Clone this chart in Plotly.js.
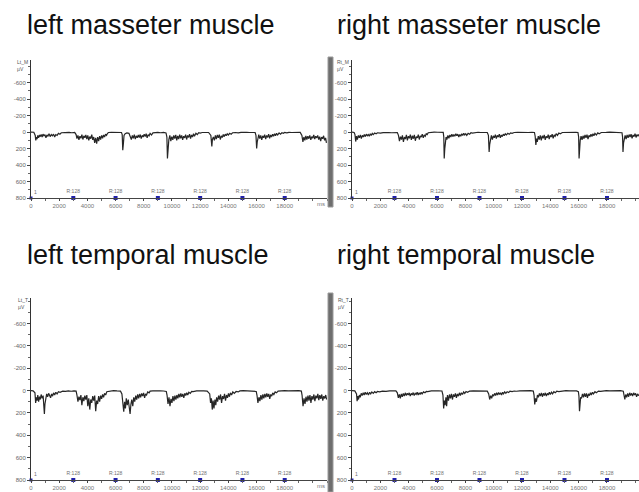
<!DOCTYPE html>
<html><head><meta charset="utf-8">
<script src="https://cdn.plot.ly/plotly-3.0.1.min.js"></script>
<style>html,body{margin:0;padding:0;background:#fff}#chart{width:639px;height:492px}</style>
</head><body><div id="chart"></div>
<script>
// ---- data (time in ms, amplitude in µV; positive = downward in display) ----
const panelTitles = ["left masseter muscle","right masseter muscle","left temporal muscle","right temporal muscle"];
const channelNames = ["Lt_M","Rt_M","Lt_T","Rt_T"];
const yTicks = [-600,-400,-200,0,200,400,600,800];
const xTicks = [0,2000,4000,6000,8000,10000,12000,14000,16000,18000];
const xTickLabels = ["0","2000","4000","6000","8000","10000","12000","14000","16000","18000"];
const markerTimes = [3000,6000,9000,12000,15000,18000];
const markerLabels = ["R:128","R:128","R:128","R:128","R:128","R:128"];

const ltM = [[0,0],[200,2],[300,40],[340,100],[380,60],[430,85],[480,40],[540,70],[600,35],[660,55],[720,30],[790,60],[850,25],[920,45],[990,30],[1060,70],[1130,35],[1200,50],[1280,20],[1360,55],[1440,30],[1520,45],[1600,25],[1680,60],[1760,30],[1850,40],[1950,15],[2050,25],[2150,8],[2300,5],[2500,10],[2700,4],[2900,8],[3100,3],
[3200,30],[3260,80],[3330,40],[3400,95],[3470,50],[3540,75],[3610,30],[3680,90],[3750,45],[3820,70],[3890,35],[3960,85],[4030,40],[4100,100],[4170,55],[4240,80],[4310,30],[4380,95],[4450,60],[4520,130],[4590,70],[4660,140],[4730,60],[4800,110],[4870,50],[4940,90],[5010,40],[5080,75],[5150,35],[5220,60],[5290,25],[5360,40],[5430,15],[5500,5],
[5700,2],[5950,0],[6200,3],[6420,5],[6470,30],[6510,220],[6550,150],[6600,40],[6680,20],[6800,10],[6950,15],
[7050,50],[7120,90],[7190,40],[7260,75],[7330,30],[7400,85],[7470,45],[7540,70],[7610,35],[7680,65],[7750,30],[7820,80],[7890,40],[7960,60],[8030,25],[8100,55],[8170,20],[8240,70],[8310,30],[8380,45],[8450,15],[8550,35],[8650,10],
[8800,5],[9000,3],[9200,8],[9400,4],[9580,10],[9640,60],[9680,320],[9710,180],[9740,260],[9780,90],
[9850,40],[9920,110],[9990,55],[10060,95],[10130,40],[10200,80],[10270,35],[10340,100],[10410,45],[10480,85],[10550,30],[10620,75],[10690,40],[10760,95],[10830,50],[10900,70],[10970,30],[11040,90],[11110,40],[11180,65],[11250,25],[11320,80],[11390,35],[11460,60],[11530,20],[11600,50],[11700,15],[11800,30],[11900,8],[12000,12],[12150,5],[12300,8],[12450,3],[12600,5],
[12760,40],[12830,175],[12870,90],[12940,60],[13010,100],[13080,40],[13150,85],[13220,35],[13290,70],[13360,30],[13430,90],[13500,45],[13570,65],[13640,30],[13710,55],[13780,25],[13850,45],[13920,20],[14000,35],[14100,15],[14200,25],[14300,8],
[14500,5],[14700,10],[14900,4],[15100,8],[15300,3],[15500,5],[15700,2],[15900,5],[15960,40],[16010,200],[16050,120],[16090,60],
[16160,30],[16230,80],[16300,40],[16370,95],[16440,45],[16510,70],[16580,30],[16650,85],[16720,40],[16790,65],[16860,25],[16930,75],[17000,35],[17070,60],[17140,25],[17210,50],[17280,20],[17350,45],[17420,15],[17500,35],[17600,10],[17700,25],[17800,8],[17900,15],[18000,5],[18150,10],[18300,3],[18500,5],[18700,2],[18900,0],[19100,3],
[19220,40],[19290,120],[19360,60],[19430,100],[19500,45],[19570,90],[19640,50],[19710,80],[19780,40],[19850,95],[19920,55],[19990,75],[20060,35],[20130,85],[20200,50],[20270,70],[20340,40],[20410,90],[20480,55],[20550,110],[20620,60],[20690,80],[20760,45],[20830,100],[20900,70],[20960,130]];

const rtM = [[0,0],[150,5],[210,30],[260,115],[320,50],[380,90],[450,40],[520,70],[590,35],[660,80],[730,40],[800,60],[870,30],[940,55],[1010,25],[1080,45],[1150,30],[1220,50],[1290,20],[1360,40],[1430,15],[1500,30],[1600,12],[1700,20],[1800,8],[2000,12],[2200,6],[2400,10],[2600,5],[2800,8],[3000,3],[3200,5],
[3280,40],[3350,110],[3420,55],[3490,90],[3560,40],[3630,120],[3700,60],[3770,85],[3840,35],[3910,100],[3980,50],[4050,75],[4120,30],[4190,95],[4260,45],[4330,80],[4400,35],[4470,105],[4540,55],[4610,70],[4680,30],[4750,90],[4820,45],[4890,60],[4960,25],[5030,70],[5100,35],[5170,50],[5240,20],[5310,30],[5380,8],
[5550,3],[5800,0],[6050,2],[6300,0],[6440,3],[6480,60],[6510,320],[6550,200],[6590,120],[6640,60],
[6700,90],[6770,40],[6840,75],[6910,35],[6980,60],[7050,25],[7120,55],[7190,30],[7260,50],[7330,20],[7400,45],[7470,25],[7540,60],[7610,30],[7680,50],[7750,20],[7820,40],[7890,15],[7960,35],[8030,20],[8100,40],[8200,15],[8300,25],[8400,8],[8500,12],
[8700,5],[8900,2],[9100,5],[9300,2],[9550,5],[9630,40],[9680,240],[9720,150],[9770,80],
[9840,40],[9910,90],[9980,45],[10050,70],[10120,30],[10190,80],[10260,40],[10330,60],[10400,25],[10470,70],[10540,35],[10610,55],[10680,25],[10750,45],[10820,20],[10900,35],[11000,15],[11100,25],[11200,10],[11300,15],[11450,5],
[11700,3],[11950,6],[12200,3],[12450,5],[12700,2],[12880,5],[12930,50],[12980,155],[13030,80],[13080,120],
[13150,50],[13220,90],[13290,40],[13360,100],[13430,45],[13500,75],[13570,35],[13640,95],[13710,50],[13780,70],[13850,30],[13920,85],[13990,40],[14060,60],[14130,25],[14200,75],[14270,35],[14340,50],[14410,20],[14500,40],[14600,12],[14700,20],[14850,5],
[15050,3],[15300,0],[15550,3],[15800,2],[15950,5],[16000,60],[16030,320],[16070,180],[16110,100],
[16170,50],[16240,95],[16310,45],[16380,80],[16450,35],[16520,70],[16590,30],[16660,85],[16730,40],[16800,60],[16870,25],[16940,55],[17010,20],[17080,45],[17150,15],[17250,35],[17350,10],[17450,20],[17600,5],[17750,8],
[17950,3],[18200,0],[18450,2],[18700,0],[18950,3],[19060,8],[19100,60],[19130,240],[19170,130],[19210,80],
[19280,40],[19350,85],[19420,35],[19490,70],[19560,30],[19630,60],[19700,25],[19770,75],[19840,35],[19910,55],[19980,20],[20050,65],[20120,30],[20190,50],[20260,25]];

const ltT = [[0,0],[150,2],[280,20],[330,110],[380,60],[430,90],[480,40],[540,100],[600,55],[660,80],[720,35],[790,70],[860,45],[920,140],[950,210],[990,120],[1050,60],[1110,30],[1180,55],[1250,25],[1320,45],[1390,65],[1460,30],[1530,50],[1600,20],[1680,40],[1760,15],[1850,30],[1950,10],[2060,15],[2250,5],[2450,8],[2650,3],[2850,6],[3050,2],[3200,5],
[3260,40],[3330,100],[3400,55],[3470,85],[3540,40],[3610,130],[3680,60],[3750,95],[3820,45],[3890,80],[3960,40],[4030,140],[4100,70],[4170,170],[4240,80],[4310,110],[4380,50],[4450,90],[4520,45],[4590,185],[4660,90],[4730,120],[4800,50],[4870,100],[4940,45],[5010,75],[5080,35],[5150,60],[5220,25],[5300,40],[5380,10],
[5600,3],[5850,0],[6100,3],[6350,5],
[6450,30],[6520,120],[6580,190],[6640,100],[6700,160],[6760,70],[6830,130],[6900,80],[6970,150],[7030,210],[7090,120],[7150,80],[7220,140],
[7290,60],[7360,100],[7430,45],[7500,80],[7570,35],[7640,70],[7710,30],[7780,60],[7850,25],[7920,50],[7990,20],[8060,65],[8130,30],[8200,40],[8280,12],[8380,20],[8450,5],
[8650,2],[8900,5],[9150,2],[9400,4],[9600,8],
[9650,40],[9720,120],[9790,60],[9860,140],[9930,75],[10000,110],[10070,50],[10140,95],[10210,45],[10280,80],[10350,40],
[10420,70],[10490,30],[10560,60],[10630,25],[10700,55],[10770,30],[10840,65],[10910,25],[10980,45],[11050,20],[11120,40],[11200,15],[11300,25],[11400,8],[11500,10],
[11750,3],[12000,0],[12250,3],[12500,5],
[12680,30],[12740,110],[12800,70],[12860,170],[12920,90],[12980,160],[13050,80],[13110,130],[13170,60],
[13240,100],[13310,45],[13380,80],[13450,35],[13520,110],[13590,50],[13660,75],[13730,30],[13800,90],[13870,40],[13940,65],[14010,25],[14080,55],[14150,20],[14230,40],[14320,12],[14420,25],[14550,8],[14700,12],[14820,3],
[15050,0],[15300,3],[15550,0],[15800,3],[15980,8],
[16030,40],[16100,110],[16170,60],[16240,95],[16310,40],[16380,80],[16450,35],
[16520,70],[16590,30],[16660,60],[16730,25],[16800,55],[16870,30],[16940,75],[17010,35],[17080,50],[17150,20],[17230,35],[17320,12],[17420,20],[17530,5],
[17750,2],[18000,0],[18250,3],[18500,0],[18750,3],[19000,0],[19180,5],
[19230,40],[19300,140],[19370,70],[19440,120],[19510,55],[19580,100],[19650,45],
[19720,90],[19790,40],[19860,110],[19930,50],[20000,80],[20070,35],[20140,95],[20210,45],[20280,70],[20350,30],[20420,85],[20490,40],[20560,75],[20630,35],[20700,90],[20770,50],[20840,70],[20910,40],[20970,80]];

const rtT = [[0,0],[200,3],[320,30],[360,95],[410,50],[460,80],[520,40],[580,60],[650,25],[720,45],[790,20],[860,40],[930,15],[1000,35],[1080,20],[1160,40],[1240,15],[1320,30],[1400,12],[1500,25],[1600,10],[1700,20],[1800,8],[1950,12],[2150,5],[2400,8],[2650,3],[2900,5],[3100,2],
[3200,20],[3270,65],[3340,35],[3410,70],[3480,30],[3550,55],[3620,25],[3690,50],
[3760,20],[3830,45],[3900,25],[3970,40],[4040,20],[4110,50],[4180,25],[4250,40],[4320,18],[4390,45],[4460,25],[4530,35],[4600,15],[4670,40],[4740,20],[4810,35],[4880,15],[4950,30],[5050,12],[5150,20],[5250,8],[5350,10],
[5600,3],[5850,0],[6100,2],[6350,4],
[6420,40],[6470,160],[6520,90],[6570,130],[6630,60],[6680,140],
[6740,40],[6810,90],[6880,35],[6950,70],[7020,30],[7090,80],[7160,35],[7230,55],[7300,25],[7370,65],[7440,30],[7510,50],[7580,20],[7650,45],[7720,20],[7800,35],[7880,12],[7960,25],[8050,8],[8150,15],[8300,5],
[8550,2],[8800,4],[9050,1],[9300,3],[9550,5],
[9650,30],[9720,80],[9790,45],[9860,70],[9930,35],
[10000,50],[10070,25],[10140,45],[10210,20],[10280,40],[10350,18],[10420,35],[10490,20],[10560,40],[10630,15],[10700,30],[10780,12],[10860,25],[10950,10],[11050,18],[11150,6],[11300,10],[11450,4],[11600,6],
[11850,2],[12100,0],[12350,3],[12600,1],[12800,5],
[12850,40],[12900,125],[12960,70],[13020,100],
[13090,40],[13160,60],[13230,25],[13300,50],[13370,20],[13440,55],[13510,25],[13580,45],[13650,20],[13720,50],[13790,25],[13860,40],[13930,15],[14000,35],[14080,15],[14160,30],[14250,10],[14350,20],[14450,6],[14600,10],
[14850,3],[15100,0],[15350,3],[15600,0],[15850,3],[15980,10],
[16020,50],[16060,185],[16100,100],[16140,60],
[16200,70],[16270,30],[16340,60],[16410,25],[16480,55],[16550,25],[16620,65],[16690,30],[16760,45],[16830,20],[16900,40],[16970,15],[17050,30],[17150,10],[17250,20],[17400,5],[17550,8],[17700,3],
[17950,0],[18200,2],[18450,0],[18700,3],[18950,1],[19150,6],
[19200,40],[19260,80],[19320,35],[19390,60],
[19460,25],[19530,55],[19600,20],[19670,45],[19740,25],[19810,50],[19880,20],[19950,40],[20020,25],[20090,55],[20160,30],[20230,45],[20260,35]];

// ---- layout helpers ----
const W = 639, H = 492;
const px = x => x / W;
const py = y => 1 - y / H;

const series = [ltM, rtM, ltT, rtT];
const panels = [
  {x0:31,  x1:327, y0:60,  y1:198, yr:[800,-875], xr:[0,21000]},
  {x0:352, x1:639, y0:60,  y1:198, yr:[800,-875], xr:[0,20260]},
  {x0:31,  x1:327, y0:298, y1:480, yr:[800,-828], xr:[0,21000]},
  {x0:352, x1:639, y0:298, y1:480, yr:[800,-828], xr:[0,20260]}
];

const traces = [];
const layout = {
  width: W, height: H,
  margin: {l:0, r:0, t:0, b:0},
  paper_bgcolor: '#ffffff', plot_bgcolor: '#ffffff',
  showlegend: false,
  font: {family: 'Liberation Sans, Arial, sans-serif', color: '#666'},
  annotations: [], shapes: []
};

panels.forEach((p, i) => {
  const n = i === 0 ? '' : String(i + 1);
  const xa = 'x' + n, ya = 'y' + n;
  traces.push({
    type: 'scatter', mode: 'lines', xaxis: xa, yaxis: ya,
    x: series[i].map(d => d[0]), y: series[i].map(d => d[1]),
    line: {color: '#262626', width: 1.2}, hoverinfo: 'skip'
  });
  traces.push({
    type: 'scatter', mode: 'markers+text', xaxis: xa, yaxis: ya,
    x: markerTimes, y: markerTimes.map(() => 800),
    text: markerLabels, textposition: 'top center',
    textfont: {size: 5, color: '#707070'},
    marker: {symbol: 'square', size: 4, color: '#1f1fa8'},
    cliponaxis: false, hoverinfo: 'skip'
  });
  traces.push({
    type: 'scatter', mode: 'markers+text', xaxis: xa, yaxis: ya,
    x: [0], y: [800], text: ['1'], textposition: 'top right',
    textfont: {size: 5, color: '#707070'},
    marker: {symbol: 'square', size: 3, color: '#1f1fa8'},
    cliponaxis: false, hoverinfo: 'skip'
  });
  layout['xaxis' + n] = {
    domain: [px(p.x0), px(p.x1)], range: p.xr, anchor: ya,
    showline: true, linecolor: '#444', linewidth: 1,
    showgrid: false, zeroline: false,
    tickmode: 'array', tickvals: xTicks, ticktext: xTickLabels,
    ticks: 'outside', ticklen: 2, tickcolor: '#444',
    ticklabelstandoff: 0,
    tickfont: {size: 6, color: '#777'},
    minor: {dtick: 1000, tick0: 0, ticks: 'outside', ticklen: 2, tickcolor: '#666'},
    fixedrange: true
  };
  layout['yaxis' + n] = {
    domain: [py(p.y1), py(p.y0)], range: p.yr, anchor: xa,
    showline: true, linecolor: '#333', linewidth: 1,
    showgrid: false, zeroline: false,
    tickmode: 'array', tickvals: yTicks, ticktext: yTicks.map(String),
    ticks: 'outside', ticklen: 3, tickcolor: '#444',
    tickfont: {size: 6, color: '#666'},
    minor: {dtick: 100, tick0: 0, ticks: 'outside', ticklen: 2, tickcolor: '#666'},
    fixedrange: true
  };
  layout.annotations.push({
    xref: 'paper', yref: 'paper', x: px(p.x0 - 1), y: py(p.y0 - 3),
    xanchor: 'right', yanchor: 'top', showarrow: false, align: 'left',
    text: channelNames[i] + '<br>µV', font: {size: 5, color: '#555'}
  });
  layout.annotations.push({
    xref: 'paper', yref: 'paper',
    x: px(i % 2 === 0 ? 25 : 335), y: py(i < 2 ? 25 : 255),
    xanchor: 'left', yanchor: 'middle', showarrow: false,
    text: panelTitles[i], font: {size: 27, color: '#111', family: 'Liberation Sans, Arial, sans-serif'}
  });
  if (i % 2 === 0) {
    layout.annotations.push({
      xref: xa, yref: ya, x: 20600, y: 800, yshift: -6,
      xanchor: 'center', yanchor: 'middle', showarrow: false,
      text: 'ms', font: {size: 6, color: '#777'}
    });
  }
});

layout.shapes.push({type:'rect', xref:'paper', yref:'paper', x0:px(328), x1:px(333), y0:py(207), y1:py(57), fillcolor:'#6e6e6e', line:{color:'#9a9a9a', width:1}});
layout.shapes.push({type:'rect', xref:'paper', yref:'paper', x0:px(328), x1:px(333), y0:py(492), y1:py(293), fillcolor:'#6e6e6e', line:{color:'#9a9a9a', width:1}});

Plotly.newPlot('chart', traces, layout, {staticPlot: true, displayModeBar: false});
</script>
</body></html>
